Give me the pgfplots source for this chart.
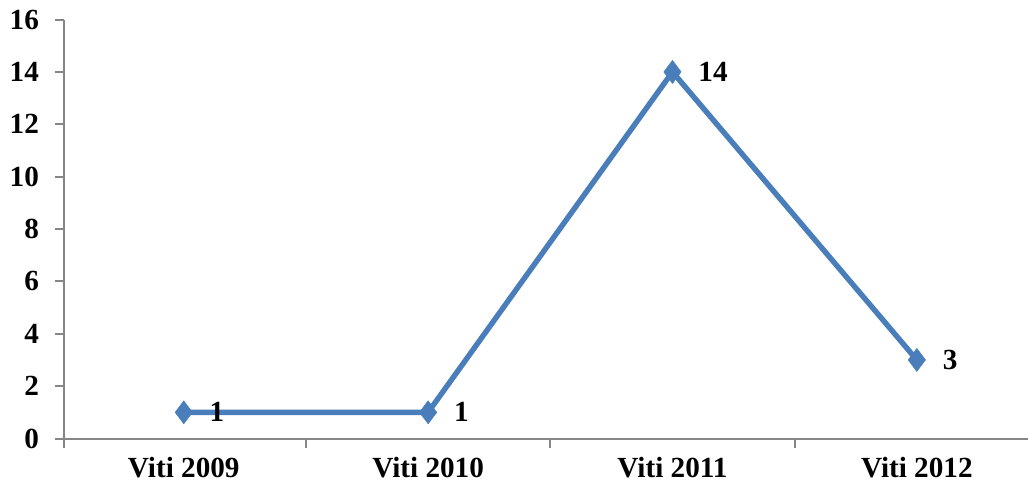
\documentclass[border=0pt]{standalone}
\usepackage{fontspec}
\setmainfont{Liberation Serif}
\usepackage{pgfplots}
\pgfplotsset{compat=1.18}
\definecolor{serie}{HTML}{4A7EBB}
\definecolor{axgray}{HTML}{868686}
\begin{document}
\fontsize{14.6}{17}\selectfont\bfseries
\begin{tikzpicture}
\begin{axis}[
  scale only axis,
  width=482pt, height=209.5pt,
  xmin=-0.49, xmax=3.455,
  ymin=0, ymax=16,
  ytick={0,2,...,16},
  axis x line*=bottom, axis y line*=left,
  axis line style={draw=axgray, line width=1pt, -},
  tick style={draw=axgray, line width=1pt},
  tick align=outside,
  major tick length=4.5pt,
  xtick={-0.49,0.5,1.5,2.5},
  xticklabels={},
  extra x ticks={0,1,2,3},
  extra x tick labels={Viti 2009,Viti 2010,Viti 2011,Viti 2012},
  extra x tick style={major tick length=0pt, tick label style={yshift=-4.5pt}},
  /pgf/number format/assume math mode=true,
  ticklabel style={font=\fontsize{14.6}{17}\selectfont\bfseries},
  yticklabel style={xshift=-3pt},
  clip=false,
  nodes near coords,
  nodes near coords style={anchor=west, xshift=8pt, font=\fontsize{14.6}{17}\selectfont\bfseries, text=black},
]
\addplot[color=serie, line width=2.7pt, mark=diamond*, mark size=5.8pt, mark options={line width=0.2pt, fill=serie}]
  coordinates {(0,1) (1,1) (2,14) (3,3)};
\end{axis}
\path (current axis.north west) ++(0,8.5pt);
\end{tikzpicture}
\end{document}
